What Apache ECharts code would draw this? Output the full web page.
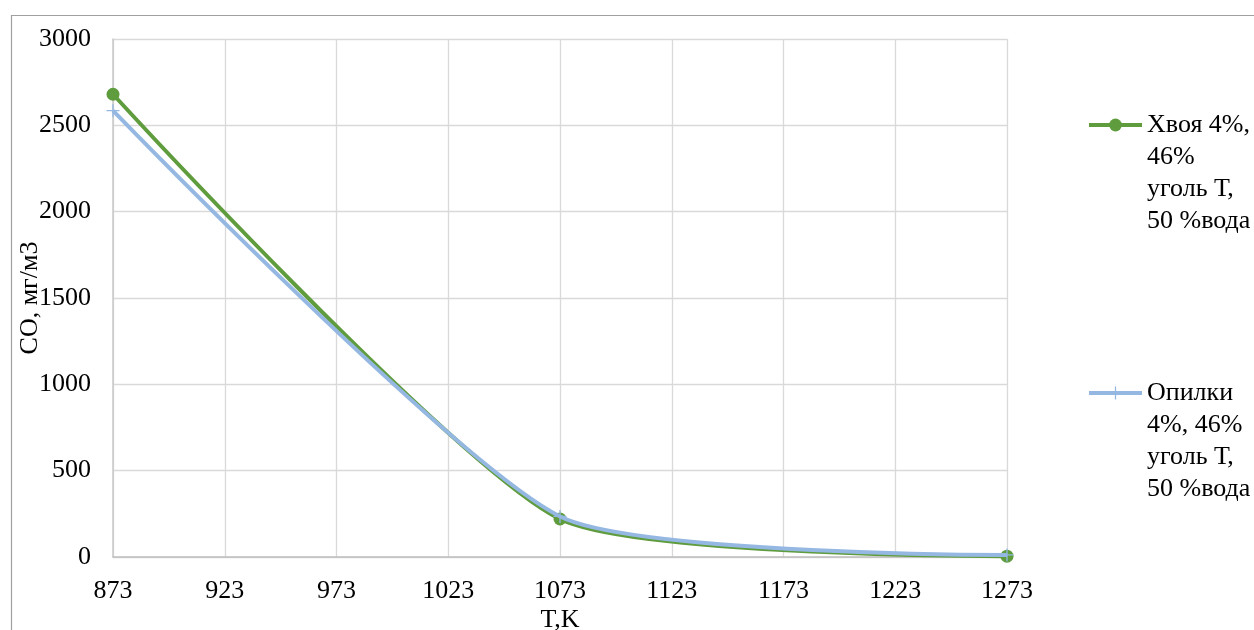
<!DOCTYPE html>
<html>
<head>
<meta charset="utf-8">
<script src="https://cdn.jsdelivr.net/npm/echarts@6/dist/echarts.min.js"></script>
<style>
html,body{margin:0;padding:0;background:#fff;}
#chart{width:1254px;height:630px;}
</style>
</head>
<body>
<div id="chart"></div>
<script>
// Data
const temperatures = [873, 1073, 1273];           // T, K
const khvoyaCO = [2680, 220, 5];                  // Хвоя 4%, 46% уголь Т, 50 %вода
const opilkiCO = [2585, 235, 12];                 // Опилки 4%, 46% уголь Т, 50 %вода
const seriesNames = [
  'Хвоя 4%,\n46%\nуголь Т,\n50 %вода',
  'Опилки\n4%, 46%\nуголь Т,\n50 %вода'
];
const xAxisName = 'T,K';
const yAxisName = 'CO, мг/м3';
const xMin = 873, xMax = 1273, xStep = 50;
const yMin = 0, yMax = 3000, yStep = 500;

const FONT = '"Liberation Serif", "Times New Roman", serif';
const green = '#5f9c3e';
const blue = '#95b8e2';

const chart = echarts.init(document.getElementById('chart'), null, {renderer: 'canvas'});
chart.setOption({
  animation: false,
  backgroundColor: '#fff',
  textStyle: {fontFamily: FONT, color: '#000'},
  graphic: [{
    type: 'rect', left: 9, top: 13,
    shape: {x: 0, y: 0, width: 1300, height: 700},
    style: {fill: 'none', stroke: '#a0a0a0', lineWidth: 1.2},
    silent: true, z: -1
  }],
  grid: {left: 113, right: 247, top: 39, bottom: 73, containLabel: false, outerBoundsMode: 'none'},
  xAxis: {
    type: 'value', min: xMin, max: xMax, interval: xStep,
    name: xAxisName, nameLocation: 'middle', nameGap: 50, nameMoveOverlap: false,
    nameTextStyle: {fontSize: 26, fontFamily: FONT, color: '#000'},
    axisLine: {show: true, lineStyle: {color: '#bfbfbf', width: 1.5}},
    axisTick: {show: false},
    axisLabel: {fontSize: 26, fontFamily: FONT, color: '#000', margin: 21,
      formatter: v => String(v)},
    splitLine: {show: true, lineStyle: {color: '#d9d9d9', width: 1.3}}
  },
  yAxis: {
    type: 'value', min: yMin, max: yMax, interval: yStep,
    name: yAxisName, nameLocation: 'middle', nameGap: 70, nameMoveOverlap: false,
    nameTextStyle: {fontSize: 26, fontFamily: FONT, color: '#000'},
    axisLine: {show: true, lineStyle: {color: '#c8c8c8', width: 1.5}},
    axisTick: {show: false},
    axisLabel: {fontSize: 26, fontFamily: FONT, color: '#000', margin: 22,
      formatter: v => String(v)},
    splitLine: {show: true, lineStyle: {color: '#d9d9d9', width: 1.3}}
  },
  legend: {
    orient: 'vertical', left: 1087, top: 13, padding: 0,
    itemWidth: 53, itemHeight: 16, itemGap: 44,
    lineStyle: {width: 4},
    formatter: function (name) { return '\n\n\n' + name; },
    textStyle: {fontSize: 26, fontFamily: FONT, color: '#000', lineHeight: 32},
    data: seriesNames
  },
  series: [
    {
      name: seriesNames[0], type: 'line', smooth: 0.2,
      data: temperatures.map((t, i) => [t, khvoyaCO[i]]),
      symbol: 'circle', symbolSize: 13,
      lineStyle: {color: green, width: 4},
      itemStyle: {color: green},
      z: 2
    },
    {
      name: seriesNames[1], type: 'line', smooth: 0.2,
      data: temperatures.map((t, i) => [t, opilkiCO[i]]),
      symbol: 'path://M5.4,0h1.2v12h-1.2z M0,5.4h12v1.2h-12z', symbolSize: 13,
      lineStyle: {color: blue, width: 4},
      itemStyle: {color: blue},
      z: 3
    }
  ]
});
</script>
</body>
</html>
